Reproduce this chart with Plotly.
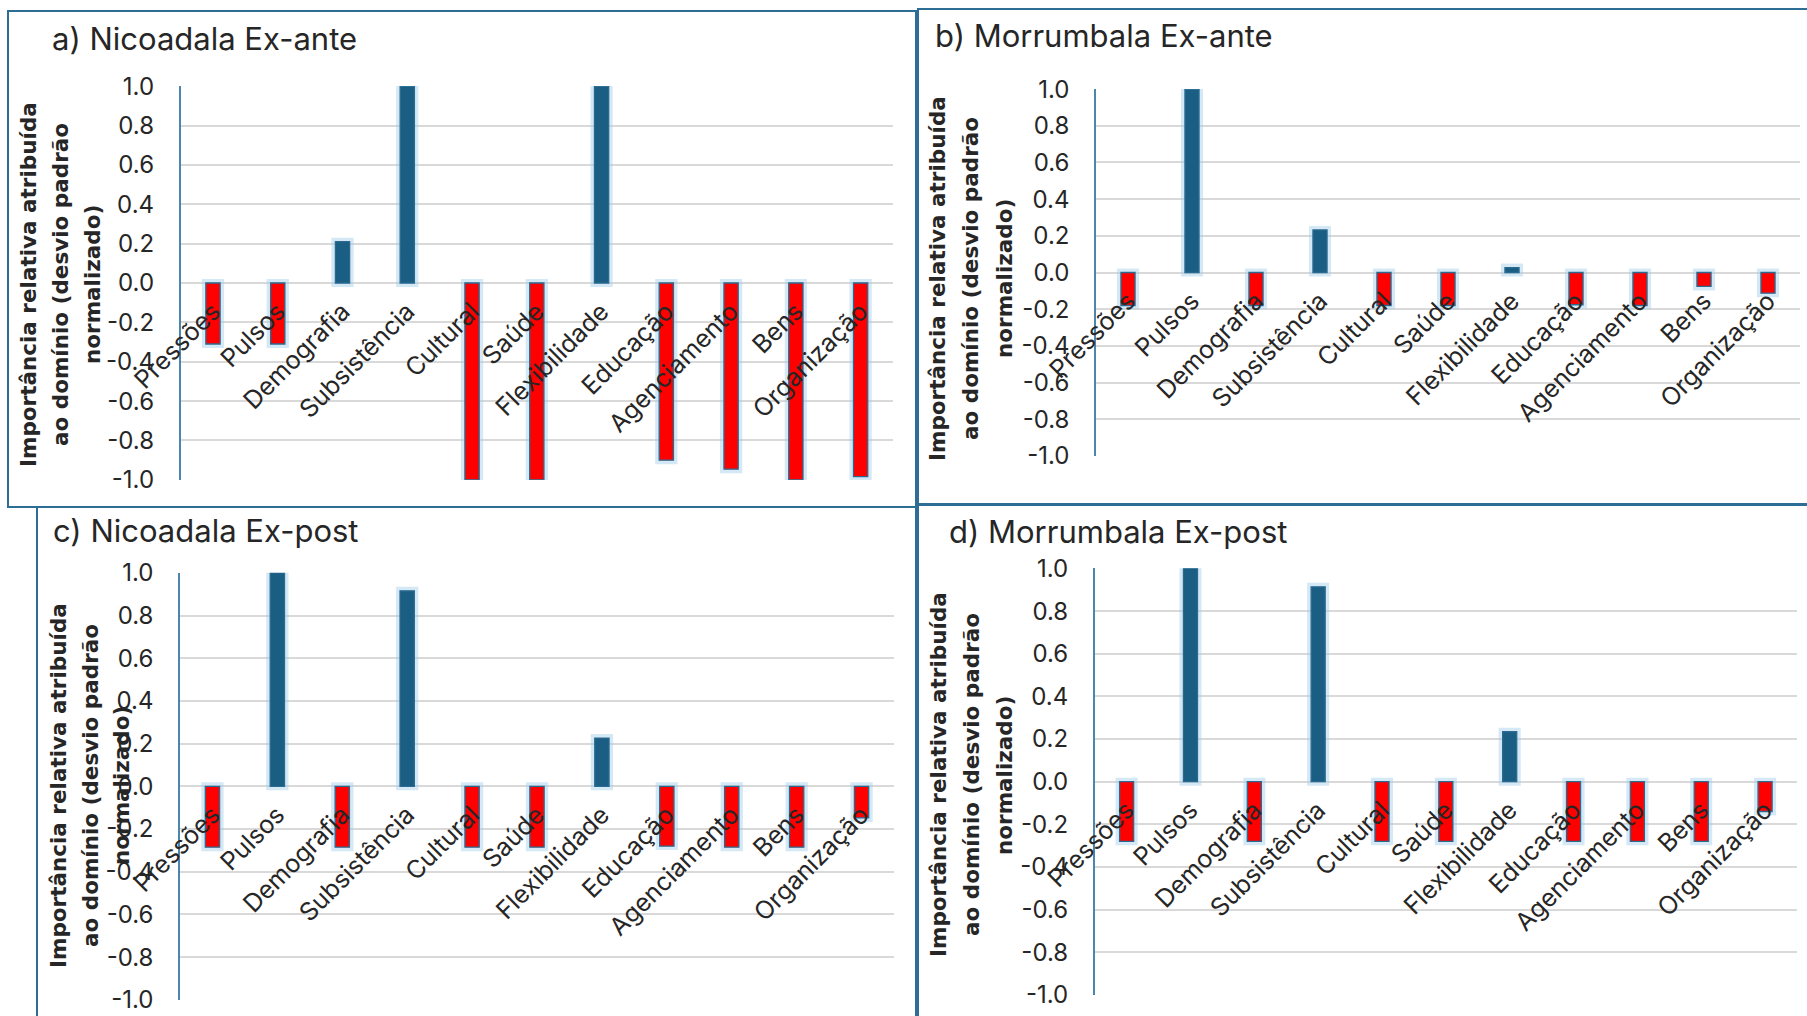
import plotly.graph_objects as go

W, H = 1807, 1016

categories = ["Pressões", "Pulsos", "Demografia", "Subsistência", "Cultural", "Saúde",
              "Flexibilidade", "Educação", "Agenciamento", "Bens", "Organização"]

nicoadala_ex_ante = [-0.31, -0.31, 0.21, 1.0, -1.0, -1.0, 1.0, -0.90, -0.946, -1.0, -0.984]
morrumbala_ex_ante = [-0.18, 1.0, -0.18, 0.232, -0.18, -0.18, 0.027, -0.176, -0.18, -0.076, -0.113]
nicoadala_ex_post = [-0.285, 1.0, -0.285, 0.916, -0.285, -0.285, 0.226, -0.28, -0.285, -0.285, -0.148]
morrumbala_ex_post = [-0.28, 1.0, -0.28, 0.914, -0.28, -0.28, 0.234, -0.28, -0.28, -0.28, -0.14]

panel_titles = ["a) Nicoadala Ex-ante", "b) Morrumbala Ex-ante",
                "c) Nicoadala Ex-post", "d) Morrumbala Ex-post"]
y_title_lines = ["Importância relativa atribuída", "ao domínio (desvio padrão", "normalizado)"]
y_tick_values = [-1.0, -0.8, -0.6, -0.4, -0.2, 0.0, 0.2, 0.4, 0.6, 0.8, 1.0]
y_tick_labels = ["-1.0", "-0.8", "-0.6", "-0.4", "-0.2", "0.0", "0.2", "0.4", "0.6", "0.8", "1.0"]

series = [nicoadala_ex_ante, morrumbala_ex_ante, nicoadala_ex_post, morrumbala_ex_post]

POS = "#1a5e83"
NEG = "#ff0000"
EDGE = "#2b6a90"
GLOW = "rgba(160,205,235,0.45)"
BORDER = "#2d6d96"
GRID = "#d9d9d9"
TXT = "#262626"

# layout geometry in pixels: (x0, x1, ytop, ybottom)
plots = [(180.6, 893, 86, 480), (1096, 1800, 89, 456),
         (180, 894, 572.7, 1000), (1094.7, 1797, 568.3, 995)]
title_pos = [(50, 38), (933, 35), (51, 530), (947, 531)]
ytitle_pos = [([29, 61, 93], 285), ([938, 971, 1005], 279),
              ([58, 90, 121], 786), ([938, 971, 1004], 775)]
borders = [(8, 11, 916, 507), (918, 9, 1812, 504), (37, 507, 916, 1022), (918, 505, 1812, 1022)]


def px(x):
    return x / W


def py(y):
    return 1 - y / H


fig = go.Figure()
layout = dict(
    width=W, height=H, margin=dict(l=0, r=0, t=0, b=0, pad=0), autosize=False,
    paper_bgcolor="white", plot_bgcolor="white", showlegend=False,
    barmode="overlay", annotations=[], shapes=[],
)

for i, vals in enumerate(series):
    n = "" if i == 0 else str(i + 1)
    xa, ya = "x" + n, "y" + n
    colors = [POS if v >= 0 else NEG for v in vals]
    fig.add_trace(go.Bar(x=categories, y=vals, xaxis=xa, yaxis=ya, width=0.22,
                         marker=dict(color="rgba(0,0,0,0)", line=dict(color=GLOW, width=8)),
                         hoverinfo="skip"))
    fig.add_trace(go.Bar(x=categories, y=vals, xaxis=xa, yaxis=ya, width=0.22,
                         marker=dict(color=colors, line=dict(color=EDGE, width=1.3))))
    x0, x1, yt, yb = plots[i]
    ymid = (py(yt) + py(yb)) / 2
    layout["xaxis" + n] = dict(
        domain=[px(x0), px(x1)], anchor="free", position=ymid, automargin=False,
        range=[-0.5, len(categories) - 0.5], showgrid=False, zeroline=False,
        showline=False, ticks="", tickangle=-45, ticklabelstandoff=8,
        tickfont=dict(family="Inter, Liberation Sans, sans-serif", size=25, color=TXT),
        fixedrange=True,
    )
    layout["yaxis" + n] = dict(
        domain=[py(yb), py(yt)], anchor=xa, range=[-1.0008, 1.0008], automargin=False,
        tickvals=y_tick_values, ticktext=y_tick_labels,
        showgrid=True, gridcolor=GRID, gridwidth=1.5, zeroline=False,
        showline=True, linecolor="#4a86ad", linewidth=1.5, ticks="",
        ticklabelstandoff=20,
        tickfont=dict(family="Inter, Liberation Sans, sans-serif", size=24, color=TXT),
        fixedrange=True,
    )
    tx, ty = title_pos[i]
    layout["annotations"].append(dict(
        text=panel_titles[i], x=px(tx), y=py(ty), xref="paper", yref="paper",
        xanchor="left", yanchor="middle", showarrow=False,
        font=dict(family="Inter, Open Sans, sans-serif", size=31, color=TXT)))
    xs, yc = ytitle_pos[i]
    for line, lx in zip(y_title_lines, xs):
        layout["annotations"].append(dict(
            text=line, x=px(lx), y=py(yc), xref="paper", yref="paper",
            xanchor="center", yanchor="middle", showarrow=False, textangle=-90,
            font=dict(family="DejaVu Sans, sans-serif", size=21.5, color=TXT, weight="bold")))
    bx0, by0, bx1, by1 = borders[i]
    layout["shapes"].append(dict(
        type="rect", xref="paper", yref="paper", x0=px(bx0), x1=px(bx1), y0=py(by1), y1=py(by0),
        line=dict(color=BORDER, width=2), fillcolor="rgba(0,0,0,0)", layer="above"))

fig.update_layout(**layout)
fig.write_html("out.html", config={"displayModeBar": False},
               post_script="document.body.style.margin='0';document.body.style.overflow='hidden';")
